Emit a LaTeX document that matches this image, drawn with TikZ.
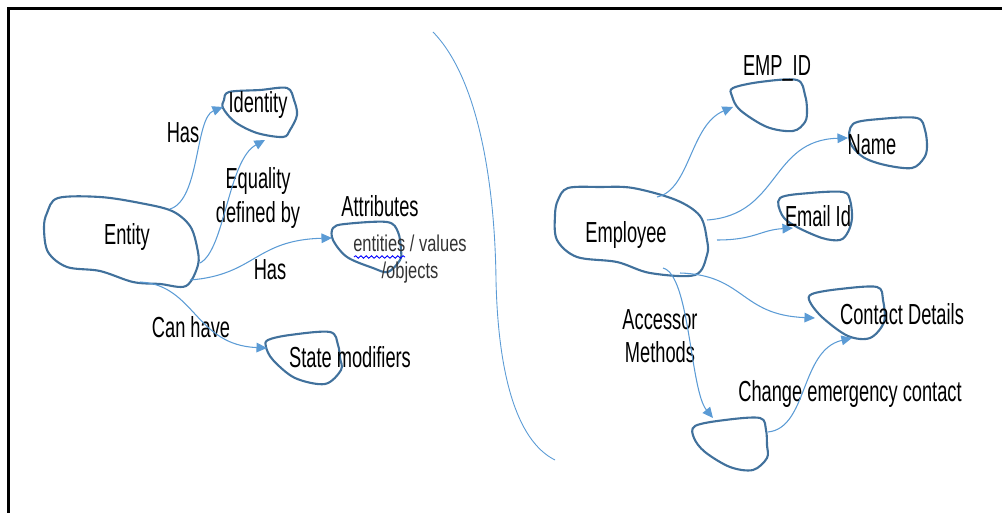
\documentclass[tikz,border=0pt]{standalone}
\usepackage{fontspec}
\setmainfont{Liberation Sans}[FakeStretch=0.63]
\newfontfamily\notefont{Liberation Sans}[FakeStretch=0.72]
\usetikzlibrary{arrows.meta,decorations.pathmorphing}
\definecolor{blobline}{HTML}{41719C}
\definecolor{linkline}{HTML}{5B9BD5}
\begin{document}
\begin{tikzpicture}[x=0.02cm, y=-0.02cm,
          blob/.style={draw=blobline, line width=1.2pt, line join=round},
          link/.style={draw=linkline, line width=0.6pt, -{Triangle[length=6pt, width=5.5pt]}},
          label/.style={inner sep=0pt, align=center, font=\fontsize{16.5pt}{19pt}\selectfont},
          small/.style={inner sep=0pt, align=center, text=black!80, font=\notefont\fontsize{13pt}{15pt}\selectfont}
        ]
        \useasboundingbox (0,0) rectangle (1002,513);

        % Frame
        \draw[line width=1.5pt] (8.5,513) -- (8.5,8.5) -- (1002,8.5);

        % Divider
        \draw[linkline, line width=0.5pt] (433,32) .. controls (480,80) and (495,190) .. (496,280)
          .. controls (498,370) and (515,440) .. (555,460);

        % Left side blobs
        \draw[blob] plot[smooth cycle, tension=0.55] coordinates {(47,213) (58,198) (100,197) (140,203) (172,211) (190,226) (197,247) (198,265) (186,286) (160,284) (133,282) (100,271) (67,267) (48,252) (44,228)};
        \draw[blob] plot[smooth cycle, tension=0.55] coordinates {(224,100) (229,92) (260,90) (287,88) (294,100) (297,115) (290,130) (283,137) (257,133) (235,122) (223,108)};
        \draw[blob] plot[smooth cycle, tension=0.55] coordinates {(333,228) (345,224) (387,222) (398,232) (401,250) (400,260) (388,272) (373,268) (347,257) (333,240)};
        \draw[blob] plot[smooth cycle, tension=0.55] coordinates {(268,340) (290,335) (330,332) (338,345) (340,358) (341,370) (325,384) (295,378) (273,360) (266,347)};

        % Right side blobs
        \draw[blob] plot[smooth cycle, tension=0.55] coordinates {(558,200) (568,188) (600,187) (633,188) (676,200) (700,216) (707,240) (707,255) (695,275) (650,273) (617,262) (577,257) (557,240) (555,215)};
        \draw[blob] plot[smooth cycle, tension=0.55] coordinates {(733,88) (760,82) (797,80) (805,95) (807,110) (805,122) (793,131) (767,127) (740,110) (732,96)};
        \draw[blob] plot[smooth cycle, tension=0.55] coordinates {(853,124) (880,119) (917,118) (925,130) (927,147) (924,158) (912,168) (885,165) (863,157) (850,142)};
        \draw[blob] plot[smooth cycle, tension=0.55] coordinates {(780,198) (810,193) (843,192) (850,200) (852,218) (848,232) (840,240) (822,238) (795,226) (782,215)};
        \draw[blob] plot[smooth cycle, tension=0.55] coordinates {(812,294) (840,289) (877,287) (883,300) (884,322) (870,338) (848,336) (823,318) (810,302)};
        \draw[blob] plot[smooth cycle, tension=0.55] coordinates {(695,426) (725,420) (760,418) (766,430) (767,445) (767,458) (753,470) (730,467) (705,452) (694,438)};

        % Entity side texts
        \node[label] (entity) at (127,237) {Entity};
        \node[label] (identity) at (258,105) {Identity};
        \node[label] (attributes) at (380,206) {Attributes};
        \node[small] (attrvalues) at (410,259) {entities / values\\/objects};
        \node[label] (statemod) at (350,357) {State modifiers};
        \node[label] (hasid) at (183,133) {Has};
        \node[label] (equality) at (258,198) {Equality\\defined by};
        \node[label] (hasattr) at (270,270) {Has};
        \node[label] (canhave) at (191,327) {Can have};
        \draw[blue, line width=0.5pt, decorate, decoration={snake, amplitude=0.7pt, segment length=3pt}] (354,257) -- (405,257);

        % Employee side texts
        \node[label] (employee) at (626,235) {Employee};
        \node[label] (empid) at (777,68) {EMP\_ID};
        \node[label] (name) at (872,145) {Name};
        \node[label] (email) at (818,216) {Email Id};
        \node[label] (contact) at (902,314) {Contact Details};
        \node[label] (accessor) at (660,336) {Accessor\\Methods};
        \node[label] (change) at (850,394) {Change emergency contact};

        % Connector ends
        \coordinate (ent-a) at (170,209);
        \coordinate (ent-b) at (200,263);
        \coordinate (ent-c) at (190,280);
        \coordinate (ent-d) at (140,282);
        \coordinate (idn-a) at (223,107);
        \coordinate (idn-b) at (265,140);
        \coordinate (att-a) at (332,238);
        \coordinate (sta-a) at (267,348);
        \coordinate (emp-a) at (657,197);
        \coordinate (emp-b) at (707,220);
        \coordinate (emp-c) at (717,240);
        \coordinate (emp-d) at (680,273);
        \coordinate (emp-e) at (663,268);
        \coordinate (eid-a) at (733,107);
        \coordinate (nam-a) at (848,138);
        \coordinate (eml-a) at (793,228);
        \coordinate (con-a) at (815,318);
        \coordinate (con-b) at (852,338);
        \coordinate (chg-a) at (713,418);
        \coordinate (chg-b) at (768,432);

        % Connectors
        \draw[link] (ent-a) .. controls (200,200) and (195,118) .. (idn-a);
        \draw[link] (ent-b) .. controls (225,250) and (228,160) .. (idn-b);
        \draw[link] (ent-c) .. controls (255,275) and (255,240) .. (att-a);
        \draw[link] (ent-d) .. controls (195,285) and (195,345) .. (sta-a);
        \draw[link] (emp-a) .. controls (690,190) and (690,125) .. (eid-a);
        \draw[link] (emp-b) .. controls (780,215) and (770,140) .. (nam-a);
        \draw[link] (emp-c) .. controls (755,240) and (760,230) .. (eml-a);
        \draw[link] (emp-d) .. controls (745,275) and (740,315) .. (con-a);
        \draw[link] (emp-e) .. controls (690,275) and (690,390) .. (chg-a);
        \draw[link] (chg-b) .. controls (808,428) and (800,350) .. (con-b);

      \end{tikzpicture}
\end{document}
